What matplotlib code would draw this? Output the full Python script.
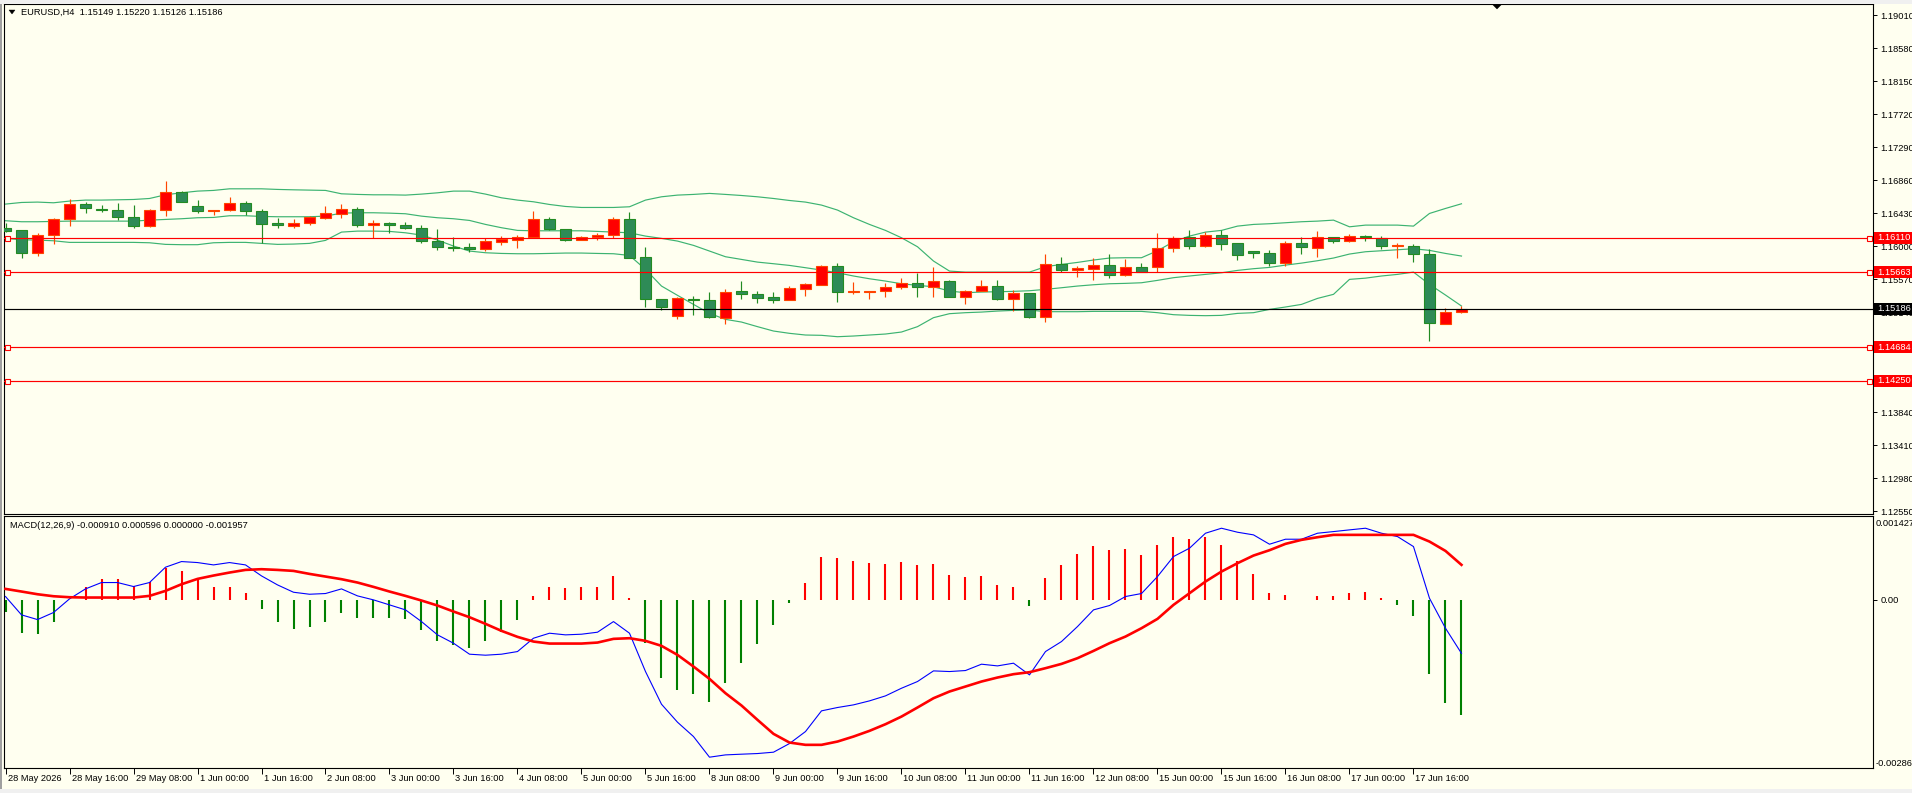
import matplotlib
matplotlib.use('Agg')
import matplotlib.pyplot as plt
import matplotlib.transforms as mtransforms
from matplotlib.patches import Rectangle, Polygon

plt.rcParams['font.family'] = ['Liberation Sans', 'DejaVu Sans']

# ---------------- data ----------------
symbol_title = "EURUSD,H4  1.15149 1.15220 1.15126 1.15186"
macd_title = "MACD(12,26,9) -0.000910 0.000596 0.000000 -0.001957"

time_labels = ["28 May 2026", "28 May 16:00", "29 May 08:00", "1 Jun 00:00", "1 Jun 16:00",
               "2 Jun 08:00", "3 Jun 00:00", "3 Jun 16:00", "4 Jun 08:00", "5 Jun 00:00",
               "5 Jun 16:00", "8 Jun 08:00", "9 Jun 00:00", "9 Jun 16:00", "10 Jun 08:00",
               "11 Jun 00:00", "11 Jun 16:00", "12 Jun 08:00", "15 Jun 00:00", "15 Jun 16:00",
               "16 Jun 08:00", "17 Jun 00:00", "17 Jun 16:00"]
bars_per_label = 4

opens = [1.16240, 1.16205, 1.15910, 1.16145, 1.16353, 1.16553, 1.16488, 1.16475, 1.16383, 1.16262,
         1.16475, 1.16709, 1.16518, 1.16457, 1.16470, 1.16566, 1.16462, 1.16297, 1.16262, 1.16305,
         1.16366, 1.16423, 1.16488, 1.16279, 1.16301, 1.16279, 1.16240, 1.16071, 1.15993, 1.15993,
         1.15962, 1.16058, 1.16084, 1.16119, 1.16357, 1.16227, 1.16084, 1.16119, 1.16149, 1.16357,
         1.15854, 1.15316, 1.15090, 1.15316, 1.15303, 1.15064, 1.15420, 1.15381, 1.15333, 1.15298,
         1.15442, 1.15494, 1.15737, 1.15403, 1.15403, 1.15420, 1.15463, 1.15524, 1.15472, 1.15541,
         1.15342, 1.15416, 1.15476, 1.15311, 1.15394, 1.15077, 1.15771, 1.15689, 1.15702, 1.15758,
         1.15624, 1.15732, 1.15733, 1.15980, 1.16123, 1.16001, 1.16149, 1.16036, 1.15941, 1.15915,
         1.15780, 1.16045, 1.15975, 1.16123, 1.16067, 1.16136, 1.16101, 1.16001, 1.16006, 1.15902,
         1.14990, 1.15149]
highs = [1.16297, 1.16210, 1.16166, 1.16370, 1.16609, 1.16574, 1.16540, 1.16557, 1.16540, 1.16479,
         1.16856, 1.16722, 1.16596, 1.16475, 1.16635, 1.16592, 1.16479, 1.16370, 1.16357, 1.16392,
         1.16518, 1.16544, 1.16514, 1.16336, 1.16310, 1.16318, 1.16271, 1.16218, 1.16123, 1.16036,
         1.16101, 1.16132, 1.16140, 1.16453, 1.16383, 1.16227, 1.16136, 1.16166, 1.16383, 1.16444,
         1.15984, 1.15316, 1.15335, 1.15346, 1.15398, 1.15437, 1.15541, 1.15411, 1.15398, 1.15476,
         1.15524, 1.15750, 1.15780, 1.15528, 1.15420, 1.15520, 1.15580, 1.15650, 1.15724, 1.15563,
         1.15429, 1.15554, 1.15554, 1.15433, 1.15394, 1.15893, 1.15854, 1.15745, 1.15850, 1.15893,
         1.15828, 1.15776, 1.16166, 1.16132, 1.16214, 1.16188, 1.16205, 1.16036, 1.15941, 1.15949,
         1.16067, 1.16123, 1.16192, 1.16123, 1.16153, 1.16149, 1.16136, 1.16045, 1.16023, 1.15958,
         1.15199, 1.15220]
lows = [1.16190, 1.15841, 1.15871, 1.16028, 1.16262, 1.16431, 1.16444, 1.16340, 1.16236, 1.16253,
        1.16392, 1.16574, 1.16427, 1.16401, 1.16457, 1.16401, 1.16036, 1.16236, 1.16236, 1.16279,
        1.16349, 1.16366, 1.16249, 1.16110, 1.16175, 1.16218, 1.16045, 1.15949, 1.15936, 1.15928,
        1.15936, 1.16015, 1.15971, 1.16110, 1.16210, 1.16067, 1.16075, 1.16084, 1.16110, 1.15845,
        1.15207, 1.15168, 1.15051, 1.15103, 1.15064, 1.14986, 1.15311, 1.15255, 1.15255, 1.15298,
        1.15346, 1.15494, 1.15272, 1.15381, 1.15311, 1.15337, 1.15446, 1.15337, 1.15337, 1.15337,
        1.15246, 1.15416, 1.15298, 1.15155, 1.15064, 1.15012, 1.15667, 1.15598, 1.15559, 1.15585,
        1.15607, 1.15659, 1.15659, 1.15923, 1.15967, 1.15988, 1.15949, 1.15819, 1.15845, 1.15741,
        1.15741, 1.15897, 1.15858, 1.16041, 1.16058, 1.16067, 1.15958, 1.15841, 1.15789, 1.14765,
        1.14990, 1.15126]
closes = [1.16197, 1.15910, 1.16149, 1.16357, 1.16553, 1.16496, 1.16470, 1.16379, 1.16262, 1.16475,
          1.16709, 1.16574, 1.16457, 1.16475, 1.16566, 1.16457, 1.16292, 1.16279, 1.16305, 1.16379,
          1.16427, 1.16488, 1.16275, 1.16305, 1.16279, 1.16236, 1.16071, 1.15988, 1.15980, 1.15962,
          1.16062, 1.16088, 1.16123, 1.16357, 1.16218, 1.16084, 1.16123, 1.16149, 1.16357, 1.15845,
          1.15311, 1.15207, 1.15329, 1.15298, 1.15077, 1.15407, 1.15377, 1.15324, 1.15298, 1.15450,
          1.15502, 1.15737, 1.15403, 1.15420, 1.15420, 1.15463, 1.15524, 1.15468, 1.15541, 1.15337,
          1.15420, 1.15476, 1.15311, 1.15394, 1.15077, 1.15771, 1.15689, 1.15711, 1.15758, 1.15624,
          1.15732, 1.15659, 1.15980, 1.16110, 1.16001, 1.16149, 1.16032, 1.15884, 1.15910, 1.15780,
          1.16045, 1.15988, 1.16123, 1.16067, 1.16136, 1.16114, 1.16001, 1.16019, 1.15897, 1.14999,
          1.15147, 1.15186]

bb_upper = [1.16549, 1.16570, 1.16575, 1.16566, 1.16588, 1.16601, 1.16601, 1.16605, 1.16609, 1.16622,
            1.16670, 1.16696, 1.16718, 1.16727, 1.16748, 1.16748, 1.16748, 1.16740, 1.16735, 1.16731,
            1.16727, 1.16683, 1.16675, 1.16670, 1.16670, 1.16666, 1.16679, 1.16696, 1.16718, 1.16718,
            1.16679, 1.16631, 1.16601, 1.16579, 1.16544, 1.16518, 1.16505, 1.16505, 1.16505, 1.16514,
            1.16601, 1.16644, 1.16666, 1.16675, 1.16688, 1.16675, 1.16661, 1.16644, 1.16622, 1.16596,
            1.16575, 1.16536, 1.16471, 1.16371, 1.16284, 1.16206, 1.16110, 1.15993, 1.15807, 1.15676,
            1.15663, 1.15663, 1.15663, 1.15663, 1.15663, 1.15733, 1.15763, 1.15789, 1.15820, 1.15846,
            1.15850, 1.15850, 1.15941, 1.16058, 1.16132, 1.16184, 1.16206, 1.16262, 1.16284, 1.16293,
            1.16306, 1.16319, 1.16327, 1.16340, 1.16253, 1.16275, 1.16275, 1.16275, 1.16262, 1.16427,
            1.16492, 1.16553]
bb_mid = [1.16332, 1.16319, 1.16319, 1.16323, 1.16327, 1.16327, 1.16327, 1.16327, 1.16327, 1.16340,
          1.16349, 1.16358, 1.16371, 1.16375, 1.16397, 1.16397, 1.16388, 1.16384, 1.16384, 1.16384,
          1.16392, 1.16431, 1.16436, 1.16436, 1.16431, 1.16423, 1.16392, 1.16371, 1.16358, 1.16336,
          1.16284, 1.16241, 1.16206, 1.16201, 1.16201, 1.16201, 1.16201, 1.16193, 1.16184, 1.16175,
          1.16132, 1.16102, 1.16067, 1.16011, 1.15937, 1.15863, 1.15828, 1.15793, 1.15772, 1.15750,
          1.15720, 1.15689, 1.15654, 1.15612, 1.15576, 1.15546, 1.15511, 1.15490, 1.15472, 1.15416,
          1.15394, 1.15403, 1.15407, 1.15412, 1.15420, 1.15438, 1.15459, 1.15481, 1.15498, 1.15511,
          1.15516, 1.15524, 1.15555, 1.15590, 1.15612, 1.15633, 1.15654, 1.15685, 1.15707, 1.15724,
          1.15754, 1.15780, 1.15811, 1.15846, 1.15898, 1.15928, 1.15941, 1.15954, 1.15967, 1.15946,
          1.15906, 1.15872]
bb_lower = [1.16102, 1.16084, 1.16080, 1.16071, 1.16050, 1.16050, 1.16050, 1.16050, 1.16050, 1.16045,
            1.16024, 1.16020, 1.16020, 1.16045, 1.16050, 1.16050, 1.16037, 1.16024, 1.16028, 1.16037,
            1.16076, 1.16184, 1.16197, 1.16197, 1.16193, 1.16175, 1.16145, 1.16080, 1.16002, 1.15937,
            1.15915, 1.15906, 1.15902, 1.15902, 1.15906, 1.15911, 1.15911, 1.15906, 1.15902, 1.15880,
            1.15698, 1.15481, 1.15360, 1.15242, 1.15125, 1.15047, 1.15012, 1.14952, 1.14895, 1.14865,
            1.14843, 1.14839, 1.14821, 1.14830, 1.14843, 1.14856, 1.14882, 1.14952, 1.15069, 1.15121,
            1.15134, 1.15142, 1.15155, 1.15164, 1.15169, 1.15147, 1.15147, 1.15147, 1.15151, 1.15151,
            1.15151, 1.15151, 1.15134, 1.15108, 1.15099, 1.15095, 1.15099, 1.15125, 1.15134, 1.15177,
            1.15208, 1.15242, 1.15320, 1.15373, 1.15568, 1.15584, 1.15612, 1.15633, 1.15663, 1.15503,
            1.15364, 1.15221]

macd_main = [0.000057, -0.000255, -0.000335, -0.000215, 0.000017, 0.000187, 0.000295, 0.000295, 0.000227, 0.000295,
             0.000556, 0.000652, 0.000635, 0.000595, 0.000635, 0.000595, 0.000408, 0.000255, 0.000130, 0.000096,
             0.000108, 0.000187, 0.000068, 0.000000, -0.000085, -0.000170, -0.000369, -0.000595, -0.000737, -0.000924,
             -0.000941, -0.000924, -0.000879, -0.000652, -0.000567, -0.000595, -0.000584, -0.000550, -0.000369, -0.000567,
             -0.001219, -0.001775, -0.002081, -0.002325, -0.002676, -0.002637, -0.002625, -0.002614, -0.002591, -0.002444,
             -0.002240, -0.001888, -0.001831, -0.001786, -0.001718, -0.001633, -0.001503, -0.001389, -0.001208, -0.001219,
             -0.001202, -0.001094, -0.001123, -0.001077, -0.001276, -0.000879, -0.000709, -0.000454, -0.000170, -0.000096,
             0.000057, 0.000108, 0.000397, 0.000737, 0.000879, 0.001134, 0.001219, 0.001151, 0.001106, 0.000947,
             0.001032, 0.001032, 0.001134, 0.001162, 0.001191, 0.001219, 0.001134, 0.001077, 0.000907, 0.000028,
             -0.000482, -0.000910]
macd_signal = [0.000187, 0.000142, 0.000096, 0.000062, 0.000045, 0.000040, 0.000040, 0.000040, 0.000040, 0.000068,
               0.000153, 0.000266, 0.000357, 0.000414, 0.000465, 0.000510, 0.000522, 0.000510, 0.000493, 0.000442,
               0.000397, 0.000352, 0.000295, 0.000221, 0.000142, 0.000068, -0.000011, -0.000096, -0.000198, -0.000295,
               -0.000408, -0.000527, -0.000629, -0.000709, -0.000743, -0.000743, -0.000743, -0.000726, -0.000663, -0.000652,
               -0.000697, -0.000782, -0.000936, -0.001134, -0.001344, -0.001588, -0.001797, -0.002041, -0.002279, -0.002427,
               -0.002466, -0.002466, -0.002410, -0.002325, -0.002228, -0.002115, -0.001985, -0.001831, -0.001673, -0.001559,
               -0.001474, -0.001389, -0.001321, -0.001264, -0.001230, -0.001162, -0.001089, -0.000992, -0.000868, -0.000737,
               -0.000624, -0.000482, -0.000323, -0.000085, 0.000113, 0.000312, 0.000482, 0.000624, 0.000754, 0.000845,
               0.000953, 0.001021, 0.001066, 0.001106, 0.001106, 0.001106, 0.001106, 0.001106, 0.001106, 0.000992,
               0.000833, 0.000596]
macd_hist = [-0.000210, -0.000567, -0.000584, -0.000369, 0.000000, 0.000227, 0.000357, 0.000357, 0.000238, 0.000301,
             0.000539, 0.000493, 0.000352, 0.000227, 0.000227, 0.000119, -0.000147, -0.000369, -0.000488, -0.000454,
             -0.000369, -0.000215, -0.000301, -0.000301, -0.000301, -0.000329, -0.000505, -0.000692, -0.000771, -0.000811,
             -0.000692, -0.000539, -0.000335, 0.000068, 0.000227, 0.000204, 0.000227, 0.000227, 0.000408, 0.000034,
             -0.000726, -0.001321, -0.001525, -0.001593, -0.001729, -0.001406, -0.001066, -0.000743, -0.000420, -0.000045,
             0.000289, 0.000731, 0.000714, 0.000663, 0.000629, 0.000612, 0.000646, 0.000595, 0.000612, 0.000425,
             0.000391, 0.000408, 0.000255, 0.000221, -0.000096, 0.000374, 0.000595, 0.000782, 0.000919, 0.000851,
             0.000868, 0.000765, 0.000936, 0.001072, 0.001038, 0.001072, 0.000936, 0.000663, 0.000442, 0.000119,
             0.000085, 0.000006, 0.000068, 0.000068, 0.000119, 0.000136, 0.000034, -0.000079, -0.000266, -0.001253,
             -0.001746, -0.001957]

level_lines = [1.16110, 1.15663, 1.14684, 1.14250]
bid_price = 1.15186
price_ticks = [1.19010, 1.18580, 1.18150, 1.17720, 1.17290, 1.16860, 1.16430, 1.16000, 1.15570,
               1.15140, 1.13840, 1.13410, 1.12980, 1.12550]
price_range = (1.12511, 1.19156)
macd_range = (-0.00286, 0.001427)

# ---------------- styling ----------------
BG = '#FFFFF0'
UP_FILL, UP_EDGE = '#FF0000', '#FF4500'
DN_FILL, DN_EDGE = '#2E8B57', '#228B22'
BAND = '#3CB371'
FS = 6.7
W, H = 1912, 793

fig = plt.figure(figsize=(W / 100, H / 100), dpi=100, facecolor=BG)


def fx(px):
    return px / W


def fy(py):
    return 1 - py / H


ax = fig.add_axes([fx(4), fy(514), fx(1873 - 4), (514 - 4) / H], facecolor=BG)
ax2 = fig.add_axes([fx(4), fy(768), fx(1873 - 4), (768 - 516) / H], facecolor=BG)

n = len(opens)
xs = list(range(n))
xlim = (-0.094, 116.72)

# ---- candles ----
tick_size = (price_range[1] - price_range[0]) / 510.0
for i in xs:
    o, h, l, c = opens[i], highs[i], lows[i], closes[i]
    up = c >= o
    fill = UP_FILL if up else DN_FILL
    edge = UP_EDGE if up else DN_EDGE
    ax.vlines(i, l, h, color=edge, lw=0.85, zorder=3)
    bottom = min(o, c)
    height = max(abs(c - o), tick_size)
    ax.bar(i, height, bottom=bottom, width=0.64, color=fill, edgecolor=edge,
           linewidth=0.8, zorder=4)

# ---- bands ----
for band in (bb_upper, bb_mid, bb_lower):
    ax.plot(xs, band, color=BAND, lw=0.85, zorder=2)

# ---- levels ----
ytr = ax.get_yaxis_transform()
for lv in level_lines:
    ax.axhline(lv, color='#FF0000', lw=0.85, zorder=5)
    ax.plot([0.0018, 0.9978], [lv, lv], 's', transform=ytr, ms=3.6, mfc=BG,
            mec='#FF0000', mew=0.8, zorder=6, clip_on=False)
ax.axhline(bid_price, color='black', lw=0.85, zorder=5)

ax.set_xlim(*xlim)
ax.set_ylim(*price_range)
ax.set_xticks([])
ax.yaxis.tick_right()
ax.set_yticks(price_ticks)
ax.set_yticklabels(['%.5f' % v for v in price_ticks])
ax.tick_params(axis='y', direction='out', length=3, width=0.7, pad=2.5,
               labelsize=FS, colors='black')
for sp in ax.spines.values():
    sp.set_color('black')
    sp.set_linewidth(0.8)

# price boxes on right axis
box_h = 12 * tick_size
box_w = 40 / (1873 - 4)
for lv, col in [(level_lines[0], '#FF0000'), (level_lines[1], '#FF0000'),
                (bid_price, '#000000'), (level_lines[2], '#FF0000'), (level_lines[3], '#FF0000')]:
    r = Rectangle((1.0006, lv - box_h / 2), box_w, box_h, transform=ytr,
                  facecolor=col, edgecolor=col, lw=0, clip_on=False, zorder=10)
    ax.add_patch(r)
    ax.text(1.0006 + 3 / (1873 - 4), lv, '%.5f' % lv, transform=ytr, color='white',
            fontsize=FS, va='center', ha='left', clip_on=False, zorder=11)

# ---- MACD ----
hist_cols = ['#FF0000' if v > 0 else '#008000' for v in macd_hist]
ax2.vlines(xs, 0, macd_hist, colors=hist_cols, lw=1.5, zorder=2)
ax2.plot(xs, macd_main, color='#0000FF', lw=0.8, zorder=3)
ax2.plot(xs, macd_signal, color='#FF0000', lw=1.9, zorder=4)
ax2.set_xlim(*xlim)
ax2.set_ylim(*macd_range)
ax2.yaxis.tick_right()
ax2.set_yticks([0.0])
ax2.set_yticklabels(['0.00'])
ax2.tick_params(axis='y', direction='out', length=3, width=0.7, pad=2.5,
                labelsize=FS, colors='black')
label_pos = [i * bars_per_label for i in range(len(time_labels))]
ax2.set_xticks(label_pos)
ax2.set_xticklabels([''] * len(label_pos))
ax2.tick_params(axis='x', direction='out', length=4, width=0.7)
for sp in ax2.spines.values():
    sp.set_color('black')
    sp.set_linewidth(0.8)

xtr = mtransforms.blended_transform_factory(ax2.transData, ax2.transAxes)
off = mtransforms.ScaledTranslation(2 / 100, -6 / 100, fig.dpi_scale_trans)
for pos, lab in zip(label_pos, time_labels):
    ax2.text(pos, 0, lab, transform=xtr + off, fontsize=FS, ha='left', va='top',
             clip_on=False)

fig.text(fx(1876), fy(524), '%.6f' % macd_range[1], fontsize=FS, va='center', ha='left')
fig.text(fx(1876), fy(764), '%.5f' % macd_range[0], fontsize=FS, va='center', ha='left')

# ---- titles ----
fig.text(fx(21), fy(12.5), symbol_title, fontsize=FS, va='center', ha='left')
fig.text(fx(10), fy(525), macd_title, fontsize=FS, va='center', ha='left')
fig.patches.append(Polygon([(fx(9), fy(10)), (fx(15), fy(10)), (fx(12), fy(14))],
                           closed=True, facecolor='black', edgecolor='black', lw=0.3,
                           transform=fig.transFigure, figure=fig))
fig.patches.append(Polygon([(fx(1492), fy(4)), (fx(1502), fy(4)), (fx(1497), fy(9))],
                           closed=True, facecolor='black', edgecolor='black', lw=0.3,
                           transform=fig.transFigure, figure=fig))
# window borders
fig.patches.append(Rectangle((0, 0), fx(2), 1, transform=fig.transFigure,
                             facecolor='#A0A0A0', edgecolor='none', figure=fig))
fig.patches.append(Rectangle((0, 1 - 4 / H), 1, 4 / H, transform=fig.transFigure,
                             facecolor='#F0F0F0', edgecolor='none', figure=fig))
fig.patches.append(Rectangle((0, 0), 1, 4 / H, transform=fig.transFigure,
                             facecolor='#F0F0F0', edgecolor='none', figure=fig))

fig.savefig('out.png', dpi=100, facecolor=BG)
